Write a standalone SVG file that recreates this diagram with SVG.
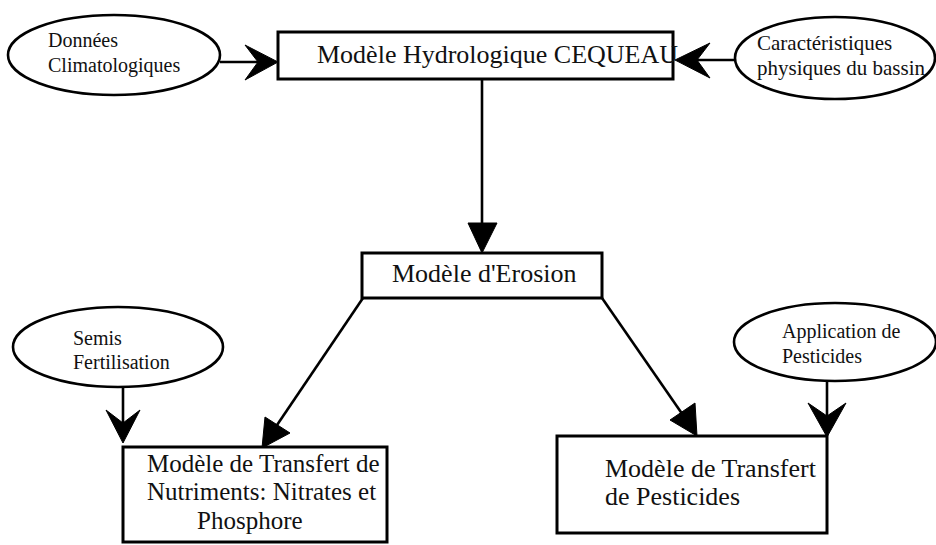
<svg xmlns="http://www.w3.org/2000/svg" width="936" height="545" viewBox="0 0 936 545" font-family="'Liberation Serif', 'DejaVu Serif', serif">
<style>
.box{fill:#fff;stroke:#000;stroke-width:3}
.ell{fill:#fff;stroke:#000;stroke-width:2.6}
.ln{stroke:#000;stroke-width:2.6;fill:none}
.hd{fill:#000;stroke:#000;stroke-width:1;stroke-linejoin:round}
text{font-family:'Liberation Serif','DejaVu Serif',serif;fill:#111}
.s{font-size:20px}
.m{font-size:26px}
</style>
<rect width="936" height="545" fill="#fff"/>
<g id="connectors">
<line class="ln" x1="220" y1="62" x2="262" y2="62"/>
<path class="hd" d="M278,62 L245,45 L258,62 L245,80 Z"/>
<line class="ln" x1="735" y1="60" x2="692" y2="60"/>
<path class="hd" d="M675,60 L710,43 L697,60 L710,78 Z"/>
<line class="ln" x1="482" y1="79" x2="482" y2="230"/>
<path class="hd" d="M482,253 L468,223 L497,223 Z"/>
<line class="ln" x1="363" y1="298" x2="275" y2="428"/>
<path class="hd" d="M262,448 L265,417 L290,433 Z"/>
<line class="ln" x1="602" y1="298" x2="685" y2="418"/>
<path class="hd" d="M697,436 L670,420 L695,403 Z"/>
<line class="ln" x1="123" y1="387" x2="123" y2="428"/>
<path class="hd" d="M123,443 L106,410 L123,423 L140,410 Z"/>
<line class="ln" x1="827" y1="381" x2="827" y2="422"/>
<path class="hd" d="M827,437 L808,403 L827,416 L846,403 Z"/>
</g>
<g id="donnees">
<ellipse class="ell" cx="114" cy="55" rx="106" ry="40"/>
<text class="s" font-family="Liberation Serif" x="48" y="47">Données</text>
<text class="s" font-family="Liberation Serif" x="48" y="72">Climatologiques</text>
</g>
<g id="cequeau">
<rect class="box" x="278" y="32" width="395" height="47"/>
<text class="m" font-family="Liberation Serif" x="317" y="63">Modèle Hydrologique CEQUEAU</text>
</g>
<g id="caracteristiques">
<ellipse class="ell" cx="835" cy="58" rx="100" ry="41"/>
<text font-family="Liberation Serif" font-size="21" x="757" y="50">Caractéristiques</text>
<text font-family="Liberation Serif" font-size="21" x="757" y="75">physiques du bassin</text>
</g>
<g id="erosion">
<rect class="box" x="362" y="253" width="240" height="45"/>
<text class="m" font-family="Liberation Serif" x="392" y="282">Modèle d'Erosion</text>
</g>
<g id="semis">
<ellipse class="ell" cx="118" cy="347" rx="105" ry="40"/>
<text class="s" font-family="Liberation Serif" x="73" y="345">Semis</text>
<text class="s" font-family="Liberation Serif" x="73" y="369">Fertilisation</text>
</g>
<g id="application">
<ellipse class="ell" cx="835" cy="342" rx="101" ry="39"/>
<text class="s" font-family="Liberation Serif" x="782" y="338">Application de</text>
<text class="s" font-family="Liberation Serif" x="782" y="363">Pesticides</text>
</g>
<g id="nutriments">
<rect class="box" x="123" y="447" width="264" height="95"/>
<text font-family="Liberation Serif" font-size="25" x="147" y="472">Modèle de Transfert de</text>
<text font-family="Liberation Serif" font-size="25" x="147" y="500">Nutriments: Nitrates et</text>
<text font-family="Liberation Serif" font-size="25" x="197" y="529">Phosphore</text>
</g>
<g id="pesticides">
<rect class="box" x="557" y="436" width="270" height="97"/>
<text class="m" font-family="Liberation Serif" x="605" y="477">Modèle de Transfert</text>
<text class="m" font-family="Liberation Serif" x="605" y="505">de Pesticides</text>
</g>
</svg>
